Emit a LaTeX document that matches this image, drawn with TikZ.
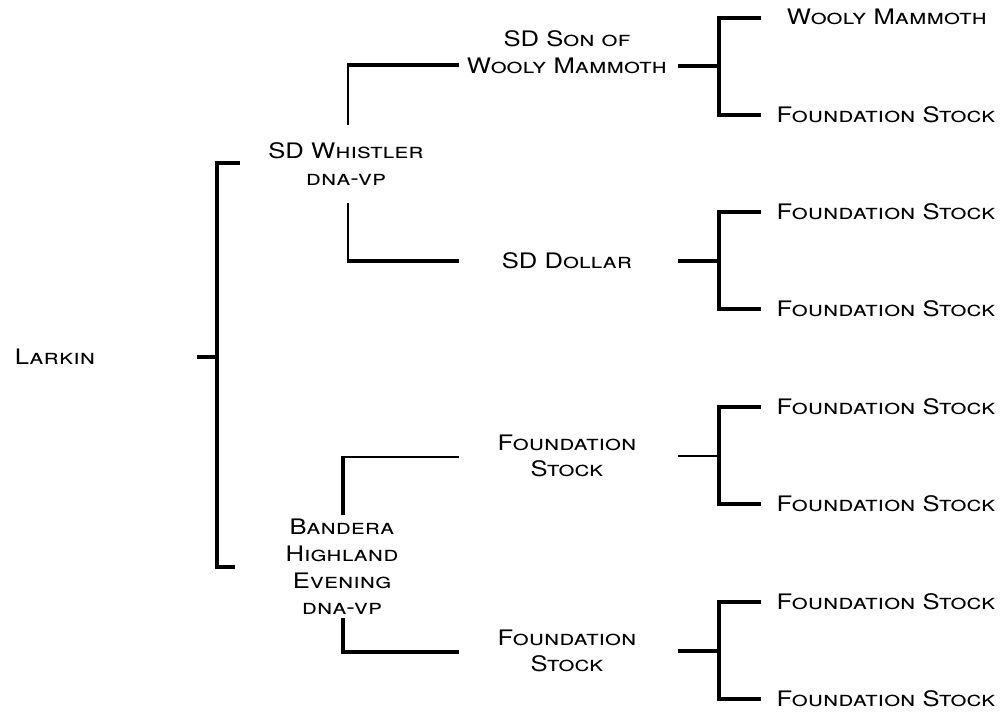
\documentclass[tikz,border=0pt]{standalone}
\usepackage{fontspec}
\setmainfont{TeX Gyre Heros}[FakeStretch=1.2]

\begin{document}
\begin{tikzpicture}[x=0.75pt,y=-0.75pt,
    lbl/.style={font=\scshape\fontsize{16}{20}\selectfont,align=center,inner sep=0pt},
    thick line/.style={line width=2.5pt},
    thin line/.style={line width=1pt}]
	\useasboundingbox (0,0) rectangle (1002,713);

	\node[lbl] (larkin) at (55,357) {Larkin};
	\node[lbl] (whistler) at (346,164) {SD Whistler\\dna-vp};
	\node[lbl] (bandera) at (342,567) {Bandera\\Highland\\Evening\\dna-vp};
	\node[lbl] (sonwm) at (567,52) {SD Son of\\Wooly Mammoth};
	\node[lbl] (dollar) at (567,261) {SD Dollar};
	\node[lbl] (fsa) at (567,456) {Foundation\\Stock};
	\node[lbl] (fsb) at (567,651) {Foundation\\Stock};

	\node[lbl] (wm) at (887,17) {Wooly Mammoth};
	\node[lbl] (fs1) at (886,115) {Foundation Stock};
	\node[lbl] (fs2) at (886,212) {Foundation Stock};
	\node[lbl] (fs3) at (886,309) {Foundation Stock};
	\node[lbl] (fs4) at (886,407) {Foundation Stock};
	\node[lbl] (fs5) at (886,504) {Foundation Stock};
	\node[lbl] (fs6) at (886,602) {Foundation Stock};
	\node[lbl] (fs7) at (886,699) {Foundation Stock};

	% first generation
	\draw[thick line] (197,357) -- (217,357);
	\draw[thick line] (240,163) -- (217,163) -- (217,567) -- (235,567);

	% second generation
	\draw[line width=1.6pt] (348,125) -- (348,65);
	\draw[thick line] (347,65) -- (459,65);
	\draw[line width=1.6pt] (348,203) -- (348,261);
	\draw[thick line] (347,261) -- (459,261);
	\draw[thick line] (343,515) -- (343,456);
	\draw[thin line] (342,457) -- (459,457);
	\draw[thick line] (343,618) -- (343,652) -- (459,652);

	% third generation
	\draw[thick line] (678,66) -- (719,66);
	\draw[thick line] (761,18) -- (719,18) -- (719,115) -- (761,115);
	\draw[thick line] (678,261) -- (719,261);
	\draw[thick line] (761,212) -- (719,212) -- (719,309) -- (761,309);
	\draw[thin line] (678,456) -- (719,456);
	\draw[thick line] (761,407) -- (719,407) -- (719,504) -- (761,504);
	\draw[thick line] (678,651) -- (719,651);
	\draw[thick line] (761,602) -- (719,602) -- (719,699) -- (761,699);
\end{tikzpicture}
\end{document}
